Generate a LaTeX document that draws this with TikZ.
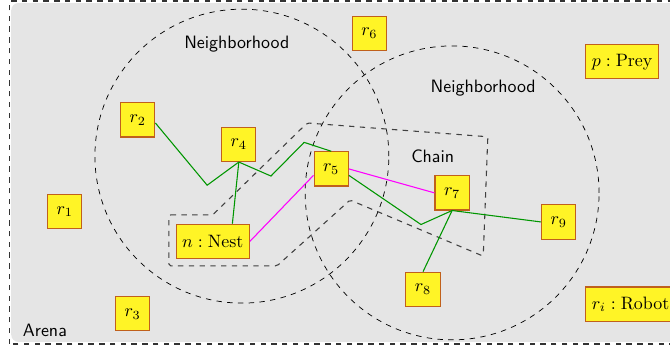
\documentclass[tikz,border=0pt]{standalone}
\usepackage{amsmath, amssymb}
\usepackage{tikz}
\usetikzlibrary{calc}
\usepackage{xcolor}
\definecolor{robotedge}{RGB}{192,96,28}
\definecolor{linkgreen}{RGB}{0,150,0}
\definecolor{nestpink}{RGB}{255,0,255}

\begin{document}
\begin{tikzpicture}[
  robot/.style={draw=robotedge,semithick,fill=yellow!85,minimum size=0.67cm},
  region/.style={dashed,font=\sffamily},
  chainlink/.style={linkgreen,semithick},
  nestlink/.style={nestpink,semithick}
  ]
\def\r{2.88}
\useasboundingbox (0,0) rectangle (13.13,6.84);
\clip (0,0) rectangle (13.13,6.84);
% arena
\fill[gray!20,rounded corners=4pt] (0.22,0.14) rectangle (13.8,6.78);
\draw[dashed,thick,black!80] (0.19,0.1) rectangle (13.8,6.82);
\node[font=\sffamily] (arena) at (0.88,0.37) {Arena};
% robots
\node[robot] (r1) at (1.27,2.69) {$r_1$};
\node[robot] (r2) at (2.70,4.49) {$r_2$};
\node[robot] (r3) at (2.60,0.69) {$r_3$};
\node[robot] (r4) at (4.68,4.01) {$r_4$};
\node[robot] (r5) at (6.49,3.53) {$r_5$};
\node[robot] (r6) at (7.24,6.19) {$r_6$};
\node[robot] (r7) at (8.86,3.06) {$r_7$};
\node[robot] (r8) at (8.29,1.17) {$r_8$};
\node[robot] (r9) at (10.95,2.49) {$r_9$};
\node[robot] (n) at (4.17,2.11) {$n:\mathrm{Nest}$};
\node[robot,anchor=west] (p) at (11.47,5.63) {$p:\mathrm{Prey}$};
\node[robot,anchor=west] (ri) at (11.47,0.88) {$r_i:\mathrm{Robot}$};
% neighborhoods
\draw[dashed] (4.74,3.78) circle (\r);
\draw[dashed] (r7) circle (\r);
\node[font=\sffamily] (nb1) at (4.64,5.98) {Neighborhood};
\node[font=\sffamily] (nb2) at (9.47,5.12) {Neighborhood};
% chain
\draw[dashed,semithick,black!75,rounded corners=1pt] (3.31,2.63) -- (4.17,2.63) -- (6.02,4.43) -- (9.56,4.16)
  -- (9.47,1.82) -- (6.86,2.92) -- (5.43,1.63) -- (3.31,1.63) -- cycle;
\node[font=\sffamily] (chain) at (8.48,3.77) {Chain};
% links
\coordinate (b1) at (4.06,3.21);
\coordinate (b2) at (5.31,3.39);
\coordinate (b3) at (5.96,4.05);
\coordinate (b4) at (8.25,2.44);
\draw[chainlink] (r2.-10) -- (b1) -- (r4.south);
\draw[chainlink] (r4.south) -- (n.42);
\draw[chainlink] (r4.south) -- (b2) -- (b3) -- (r5.north);
\draw[chainlink] (r5.-20) -- (b4) -- (r7.south);
\draw[chainlink] (r7.south) -- (r9.west);
\draw[chainlink] (r7.south) -- (r8.north);
\draw[nestlink] (n.east) -- (r5.200);
\draw[nestlink] (r5.east) -- (r7.west);
\end{tikzpicture}
\end{document}
